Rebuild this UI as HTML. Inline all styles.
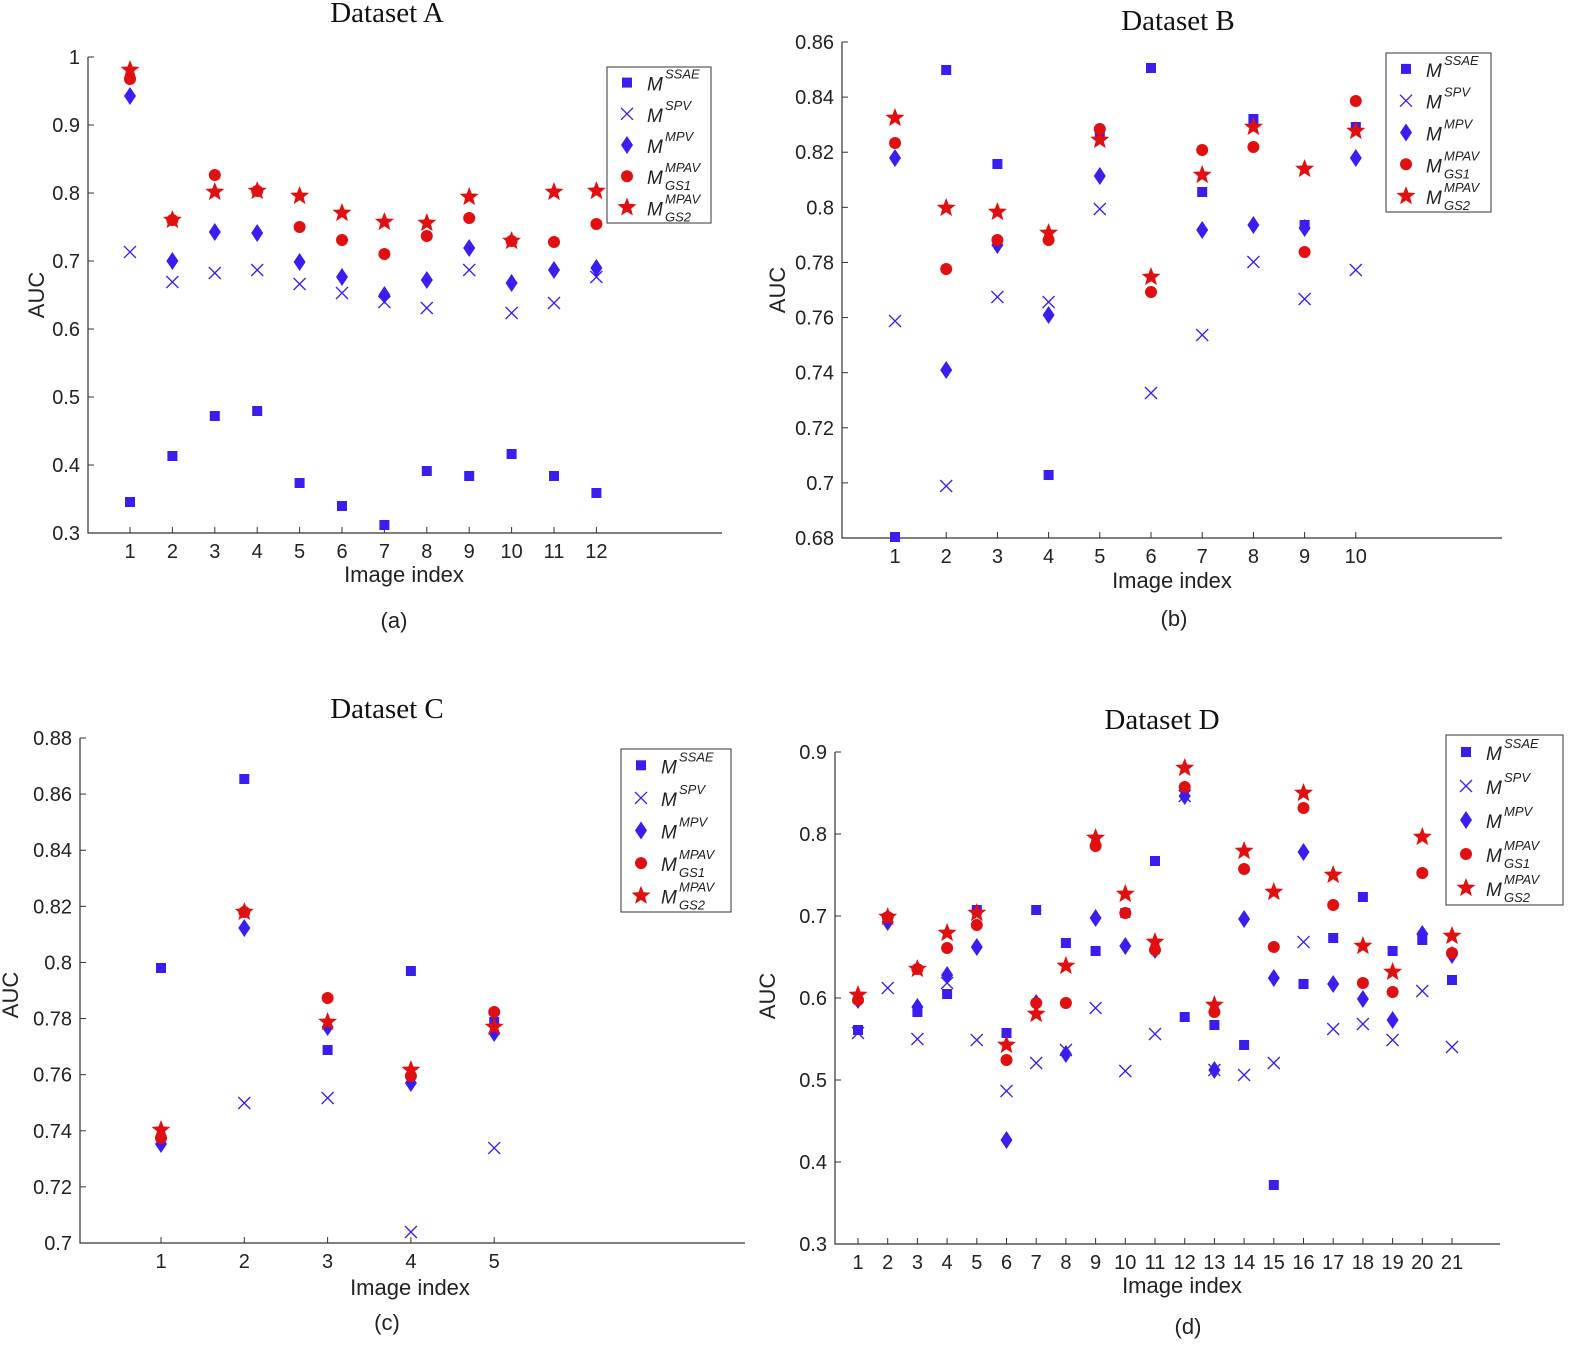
<!DOCTYPE html>
<html><head><meta charset="utf-8"><style>
html,body{margin:0;padding:0;background:#fff;}
svg{display:block}
text{font-family:"Liberation Sans",sans-serif;fill:#222}
.t{font-family:"Liberation Serif",serif;font-size:29px;fill:#111}
.k{font-size:20px}
.lab{font-size:22px}
.lg{font-size:19px;font-style:italic}
.sup{font-size:13px;font-style:italic}
</style></head><body>
<svg id="s" width="1575" height="1347" xmlns="http://www.w3.org/2000/svg"></svg>
<script>
const S=document.getElementById('s');let h='';
const B='#3a1ef0',R='#e01010';
function sq(x,y){return `<rect x="${x-5}" y="${y-5}" width="10" height="10" fill="${B}"/>`}
function cr(x,y){return `<path d="M${x-6} ${y-6}L${x+6} ${y+6}M${x-6} ${y+6}L${x+6} ${y-6}" stroke="${B}" stroke-width="1.3"/>`}
function di(x,y){return `<path d="M${x} ${y-9}L${x+6} ${y}L${x} ${y+9}L${x-6} ${y}Z" fill="${B}"/>`}
function ci(x,y){return `<circle cx="${x}" cy="${y}" r="6" fill="${R}"/>`}
function st(x,y){let p='';for(let i=0;i<10;i++){const r=i%2?4.3:10,a=-Math.PI/2+i*Math.PI/5;p+=(i?'L':'M')+(x+r*Math.cos(a)).toFixed(1)+' '+(y+r*Math.sin(a)).toFixed(1);}return `<path d="${p}Z" fill="${R}"/>`}
const F=[sq,cr,di,ci,st];
function panel(o){
 const {ax,ay0,ay1,axr,yt,x1,dx,n,data,title,tx,ty,lg,sub,subx,suby,ylx,yly,xlx,xly}=o;
 h+=`<text class="t" x="${tx}" y="${ty}" text-anchor="middle">${title}</text>`;
 h+=`<path d="M${ax} ${ay0}V${ay1}H${axr}" stroke="#333" stroke-width="1.2" fill="none"/>`;
 yt.forEach(([v,y])=>{h+=`<path d="M${ax} ${y}h6" stroke="#333"/><text class="k" x="${ax-8}" y="${y+7}" text-anchor="end">${v}</text>`});
 for(let i=0;i<n;i++){const x=x1+dx*i;h+=`<path d="M${x} ${ay1}v-6" stroke="#333"/><text class="k" x="${x}" y="${ay1+25}" text-anchor="middle">${i+1}</text>`}
 h+=`<text class="lab" x="${xlx}" y="${xly}" text-anchor="middle">Image index</text>`;
 h+=`<text class="lab" transform="translate(${ylx},${yly}) rotate(-90)" text-anchor="middle">AUC</text>`;
 h+=`<text class="lab" x="${subx}" y="${suby}" text-anchor="middle">${sub}</text>`;
 data.forEach((arr,k)=>arr.forEach((y,i)=>{if(y!=null)h+=F[k](x1+dx*i,y)}));
 const [lx,ly,lw,lh]=lg;h+=`<rect x="${lx}" y="${ly}" width="${lw}" height="${lh}" fill="#fff" stroke="#333"/>`;
 const sp=lh/5, sups=['SSAE','SPV','MPV','MPAV','MPAV'];
 for(let k=0;k<5;k++){const cy=ly+sp*(k+0.5);h+=F[k](lx+20,cy);
  h+=`<text class="lg" x="${lx+40}" y="${cy+8}">M</text><text class="sup" x="${lx+58}" y="${cy-4}">${sups[k]}</text>`;
  if(k>=3)h+=`<text class="sup" x="${lx+58}" y="${cy+14}">GS${k-2}</text>`;}
}
function yl(vals,y0,y1){return vals.map((v,i)=>[v,y0+(y1-y0)*i/(vals.length-1)])}
panel({ax:88,ay0:57,ay1:533,axr:722,yt:yl(['1','0.9','0.8','0.7','0.6','0.5','0.4','0.3'],57,533),x1:130,dx:42.4,n:12,
title:'Dataset A',tx:387,ty:22,lg:[607,67,104,156],sub:'(a)',subx:394,suby:628,ylx:44,yly:295,xlx:404,xly:582,
data:[[502,456,416,411,483,506,525,471,476,454,476,493],[252,282,273,270,284,293,302,308,270,313,303,277],[96,261,232,233,262,277,295,280,248,283,270,268],[79,220,175,191,227,240,254,236,218,241,242,224],[70,220,192,191,196,213,222,223,197,241,192,191]]});
panel({ax:842,ay0:42,ay1:538,axr:1502,yt:yl(['0.86','0.84','0.82','0.8','0.78','0.76','0.74','0.72','0.7','0.68'],42,538),x1:895,dx:51.2,n:10,
title:'Dataset B',tx:1178,ty:30,lg:[1386,53,105,159],sub:'(b)',subx:1174,suby:626,ylx:785,yly:290,xlx:1172,xly:588,
data:[[537,70,164,475,133,68,192,119,225,127],[321,486,297,302,209,393,335,262,299,270],[158,370,245,315,176,null,230,225,228,158],[143,269,240,240,129,292,150,147,252,101],[118,208,212,233,140,277,175,127,169,131]]});
panel({ax:80,ay0:738,ay1:1243,axr:745,yt:yl(['0.88','0.86','0.84','0.82','0.8','0.78','0.76','0.74','0.72','0.7'],738,1243),x1:161,dx:83.3,n:5,
title:'Dataset C',tx:387,ty:718,lg:[621,749,110,163],sub:'(c)',subx:387,suby:1330,ylx:18,yly:995,xlx:410,xly:1295,
data:[[968,779,1050,971,1022],[null,1103,1098,1232,1148],[1144,928,1027,1083,1033],[1138,912,998,1076,1012],[1130,912,1022,1070,1027]]});
panel({ax:835,ay0:752,ay1:1244,axr:1500,yt:yl(['0.9','0.8','0.7','0.6','0.5','0.4','0.3'],752,1244),x1:858,dx:29.7,n:21,
title:'Dataset D',tx:1162,ty:729,lg:[1446,735,117,170],sub:'(d)',subx:1188,suby:1334,ylx:775,yly:996,xlx:1182,xly:1293,
data:[[1030,918,1012,994,910,1033,910,943,951,913,861,1017,1025,1045,1185,984,938,897,951,940,980],
[1033,988,1039,983,1040,1091,1063,1050,1008,1071,1034,796,1070,1075,1063,942,1029,1024,1040,991,1047],
[1000,922,1007,975,947,1140,1003,1054,918,946,950,796,1070,919,978,852,984,999,1020,934,955],
[1000,917,969,948,925,1060,1003,1003,846,913,950,787,1012,869,947,808,905,983,992,873,953],
[995,917,969,933,913,1045,1014,966,838,894,942,768,1005,851,892,793,875,946,972,837,936]]});
S.innerHTML=h;
</script>
</body></html>
